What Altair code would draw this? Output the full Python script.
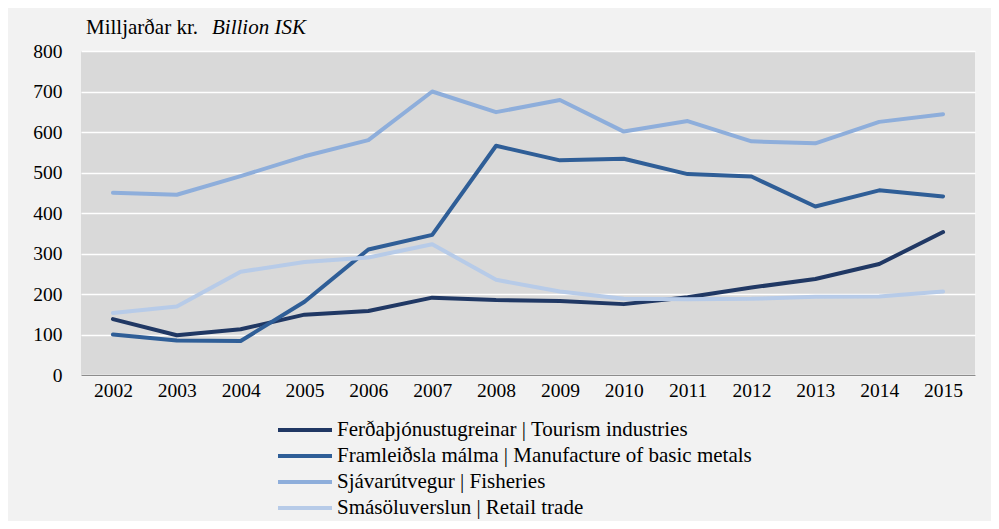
import altair as alt
import pandas as pd

years = [str(y) for y in range(2002, 2016)]
tourism = [138, 98, 113, 149, 158, 191, 185, 183, 175, 192, 216, 237, 274, 353]
metals = [100, 85, 84, 181, 310, 346, 566, 530, 534, 496, 490, 416, 456, 441]
fisheries = [450, 445, 491, 540, 580, 700, 649, 679, 601, 627, 577, 572, 625, 644]
retail = [153, 169, 255, 279, 290, 323, 235, 206, 188, 187, 188, 193, 194, 206]

series_names = [
    "Ferðaþjónustugreinar | Tourism industries",
    "Framleiðsla málma | Manufacture of basic metals",
    "Sjávarútvegur | Fisheries",
    "Smásöluverslun | Retail trade",
]
series_colors = ["#203864", "#2f5e97", "#8eaedb", "#b7cbe8"]

rows = []
for name, vals in zip(series_names, [tourism, metals, fisheries, retail]):
    for y, v in zip(years, vals):
        rows.append({"Year": y, "Value": v, "Series": name})
df = pd.DataFrame(rows)

FONT = "Times New Roman, Liberation Serif, serif"
AXIS_FS = 19.5
TEXT_FS = 21

lines = alt.Chart(df).mark_line(strokeWidth=4, strokeCap="round", strokeJoin="round").encode(
    x=alt.X("Year:O", scale=alt.Scale(type="point", padding=0.5),
            axis=alt.Axis(title=None, labelAngle=0, ticks=False, labelPadding=6,
                          domainColor="#8c8c8c", domainWidth=1, grid=False)),
    y=alt.Y("Value:Q", scale=alt.Scale(domain=[0, 800], nice=False),
            axis=alt.Axis(title=None, values=list(range(0, 801, 100)), ticks=False,
                          domain=False, labelPadding=19, gridColor="#ffffff",
                          gridWidth=1.6, gridOpacity=1)),
    color=alt.Color("Series:N",
                    scale=alt.Scale(domain=series_names, range=series_colors),
                    sort=series_names,
                    legend=alt.Legend(title=None, orient="none", legendX=195, legendY=366,
                                      direction="vertical", symbolType="stroke",
                                      symbolSize=2916, symbolStrokeWidth=4,
                                      clipHeight=26, rowPadding=0, padding=0,
                                      labelOffset=3, labelLimit=800)),
)

title_df = pd.DataFrame({"a": [1]})
t1 = alt.Chart(title_df).mark_text(font=FONT, fontSize=TEXT_FS, align="left", baseline="alphabetic",
                                   color="#000000").encode(
    x=alt.value(5), y=alt.value(-17), text=alt.value("Milljarðar kr."))
t2 = alt.Chart(title_df).mark_text(font=FONT, fontSize=TEXT_FS, fontStyle="italic", align="left",
                                   baseline="alphabetic", color="#000000").encode(
    x=alt.value(131), y=alt.value(-17), text=alt.value("Billion ISK"))

chart = alt.layer(lines, t1, t2).properties(
    width=894, height=324,
    autosize=alt.AutoSizeParams(type="none"),
    padding={"left": 73, "top": 43, "right": 16, "bottom": 146},
    background="#f2f2f2",
).configure_view(fill="#d9d9d9", stroke=None).configure_axis(
    labelFont=FONT, labelFontSize=AXIS_FS, labelColor="#000000"
).configure_legend(
    labelFont=FONT, labelFontSize=TEXT_FS, labelColor="#000000"
)

chart.save("out.html", embed_options={"renderer": "svg", "actions": False})
